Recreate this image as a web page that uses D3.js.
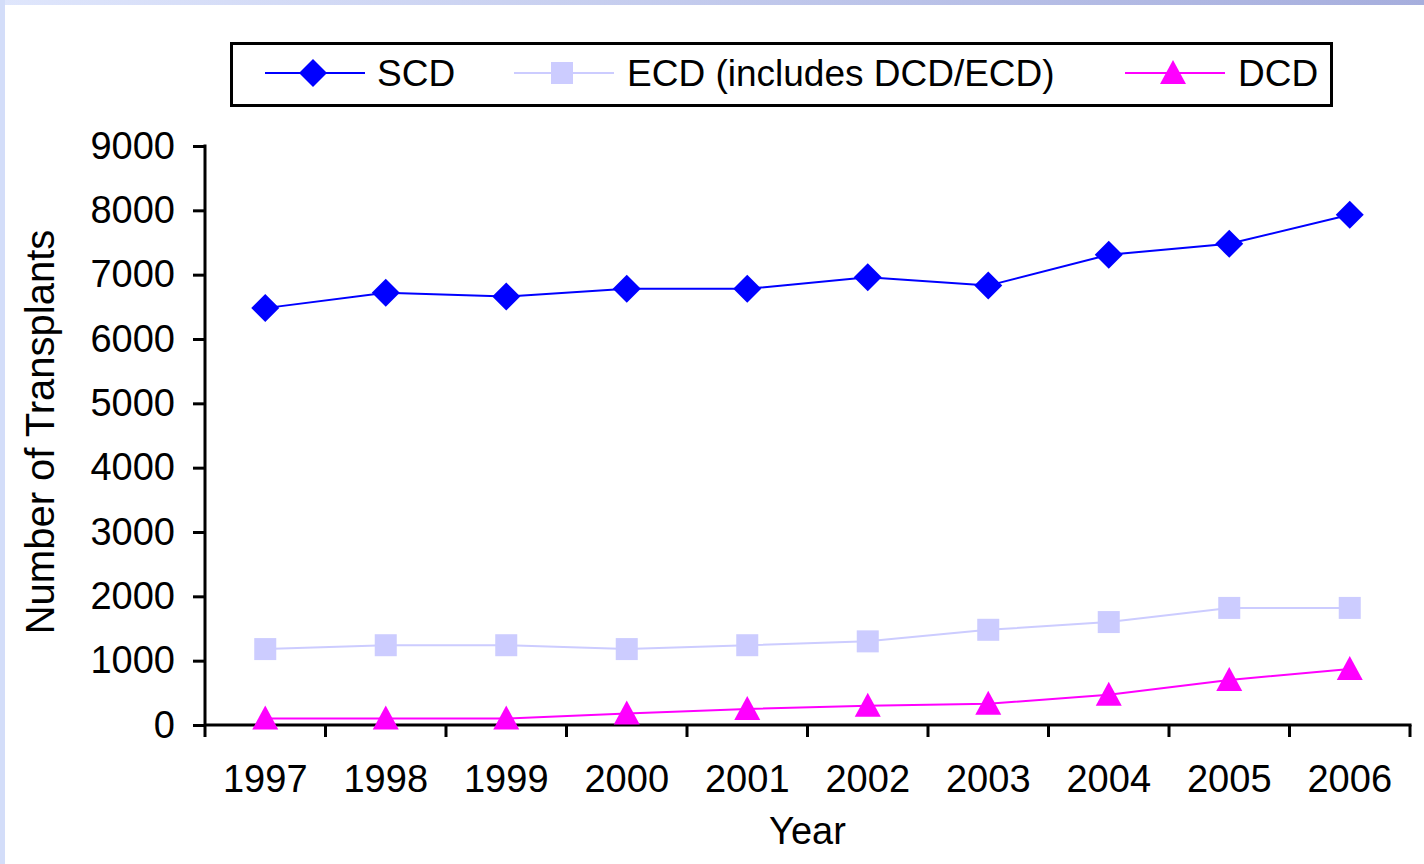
<!DOCTYPE html>
<html>
<head>
<meta charset="utf-8">
<script src="https://cdn.jsdelivr.net/npm/d3@7"></script>
<style>
  body { margin: 0; background: #fff; }
  text { font-family: "Liberation Sans", Arial, sans-serif; fill: #000; }
</style>
</head>
<body>
<div id="chart"></div>
<script>
// data
var years = ["1997", "1998", "1999", "2000", "2001", "2002", "2003", "2004", "2005", "2006"];
var scd = [6480, 6720, 6660, 6780, 6780, 6960, 6830, 7310, 7480, 7930];
var ecd = [1180, 1240, 1240, 1180, 1240, 1300, 1480, 1600, 1820, 1820];
var dcd = [100, 100, 100, 180, 250, 300, 330, 470, 700, 870];
var yTicks = [0, 1000, 2000, 3000, 4000, 5000, 6000, 7000, 8000, 9000];
var seriesNames = ["SCD", "ECD (includes DCD/ECD)", "DCD"];

var W = 1424, H = 864;
var plotLeft = 205, plotRight = 1410, plotTop = 146, plotBottom = 725;

var svg = d3.select("#chart").append("svg")
  .attr("width", W).attr("height", H);

// slide frame
var defs = svg.append("defs");
var grad = defs.append("linearGradient").attr("id", "topbar");
grad.append("stop").attr("offset", "0%").attr("stop-color", "#dfe6fc");
grad.append("stop").attr("offset", "100%").attr("stop-color", "#a6aedd");
svg.append("rect").attr("x", 0).attr("y", 0).attr("width", W).attr("height", 5).attr("fill", "url(#topbar)");
svg.append("rect").attr("x", 0).attr("y", 0).attr("width", 5).attr("height", H).attr("fill", "#d3ddf9");

var x = d3.scaleBand().domain(years).range([plotLeft, plotRight]);
var y = d3.scaleLinear().domain([0, 9000]).range([plotBottom, plotTop]);

var series = [
  { name: seriesNames[0], values: scd, color: "#0000ff", shape: "diamond" },
  { name: seriesNames[1], values: ecd, color: "#ccccff", shape: "square" },
  { name: seriesNames[2], values: dcd, color: "#ff00ff", shape: "triangle" }
];

function marker(g, shape, color) {
  if (shape == "diamond") {
    g.append("path").attr("d", "M0,-14L14,0L0,14L-14,0Z").attr("fill", color);
  } else if (shape == "square") {
    g.append("rect").attr("x", -11).attr("y", -11).attr("width", 22).attr("height", 22).attr("fill", color);
  } else {
    g.append("path").attr("d", "M0,-13L13,11L-13,11Z").attr("fill", color);
  }
}

// y axis
var yAxis = svg.append("g")
  .attr("transform", "translate(" + plotLeft + ",0)")
  .call(d3.axisLeft(y).tickValues(yTicks).tickSize(12).tickSizeOuter(0).tickPadding(18).tickFormat(d3.format("d")));
yAxis.select(".domain").remove();
yAxis.selectAll(".tick line").attr("stroke", "#000").attr("stroke-width", 3);
yAxis.selectAll(".tick text").attr("font-size", 38).attr("font-family", "Liberation Sans, Arial, sans-serif");
svg.append("line").attr("x1", plotLeft).attr("x2", plotLeft).attr("y1", plotTop - 1.5).attr("y2", plotBottom + 12)
  .attr("stroke", "#000").attr("stroke-width", 3);

// x axis
var xAxis = svg.append("g")
  .attr("transform", "translate(0," + plotBottom + ")")
  .call(d3.axisBottom(x).tickSize(0).tickPadding(40));
xAxis.select(".domain").remove();
xAxis.selectAll(".tick text").attr("font-size", 38).attr("font-family", "Liberation Sans, Arial, sans-serif");
svg.append("line").attr("x1", plotLeft).attr("x2", plotRight + 1.5).attr("y1", plotBottom).attr("y2", plotBottom)
  .attr("stroke", "#000").attr("stroke-width", 3);
svg.selectAll("line.xtick")
  .data(years.slice(1).map(function(d) { return x(d); }).concat([plotRight]))
  .enter().append("line").attr("class", "xtick")
  .attr("x1", function(d) { return d; }).attr("x2", function(d) { return d; })
  .attr("y1", plotBottom).attr("y2", plotBottom + 12)
  .attr("stroke", "#000").attr("stroke-width", 3);

// axis titles
svg.append("text").attr("x", (plotLeft + plotRight) / 2).attr("y", 844)
  .attr("text-anchor", "middle").attr("font-size", 38).text("Year");
svg.append("text").attr("transform", "translate(54,432) rotate(-90)")
  .attr("text-anchor", "middle").attr("font-size", 40).text("Number of Transplants");

// lines + markers
var line = d3.line()
  .x(function(d, i) { return x(years[i]) + x.bandwidth() / 2; })
  .y(function(d) { return y(d); });

series.forEach(function(s) {
  svg.append("path").datum(s.values).attr("d", line)
    .attr("fill", "none").attr("stroke", s.color).attr("stroke-width", 2);
  s.values.forEach(function(v, i) {
    var g = svg.append("g").attr("transform", "translate(" + (x(years[i]) + x.bandwidth() / 2) + "," + y(v) + ")");
    marker(g, s.shape, s.color);
  });
});

// legend
svg.append("rect").attr("x", 231.5).attr("y", 43.5).attr("width", 1100).attr("height", 62)
  .attr("fill", "#fff").attr("stroke", "#000").attr("stroke-width", 3);
var legendX = [265, 514, 1125];
var legendTextX = [377, 627, 1238];
series.forEach(function(s, i) {
  var g = svg.append("g");
  g.append("line").attr("x1", legendX[i]).attr("x2", legendX[i] + 100).attr("y1", 73).attr("y2", 73)
    .attr("stroke", s.color).attr("stroke-width", 2);
  var m = g.append("g").attr("transform", "translate(" + (legendX[i] + 48) + ",73)");
  marker(m, s.shape, s.color);
  g.append("text").attr("x", legendTextX[i]).attr("y", 86).attr("font-size", 37).text(s.name);
});
</script>
</body>
</html>
